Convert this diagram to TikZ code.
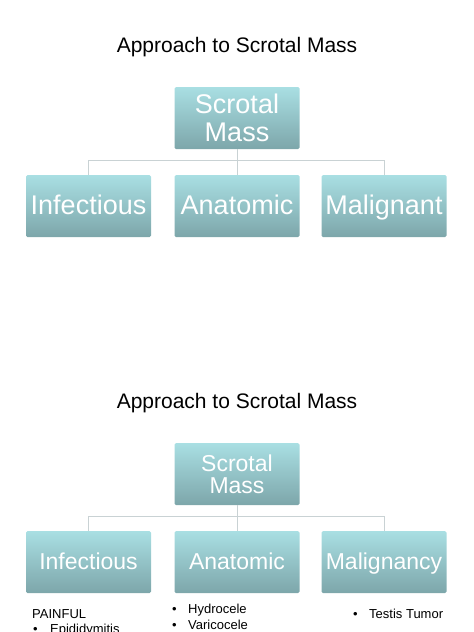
\documentclass[tikz,border=0pt]{standalone}
\usepackage{fontspec}
\setmainfont{Liberation Sans}

\definecolor{boxtop}{HTML}{A9DFE3}
\definecolor{boxbot}{HTML}{7DA6AA}
\definecolor{linkgray}{HTML}{C9D2D4}

\begin{document}
\begin{tikzpicture}[
  x=1pt,y=-1pt,
  box/.style={rectangle,rounded corners=1.5pt,minimum width=125pt,minimum height=62pt,
    inner sep=0pt,top color=boxtop,bottom color=boxbot,draw=none,text=white,align=center},
  link/.style={draw=linkgray,line width=0.8pt},
  title/.style={font=\fontsize{21}{25}\selectfont,anchor=base},
  item/.style={font=\fontsize{13}{15}\selectfont,anchor=base west,inner sep=0pt}
]
  \useasboundingbox (0,0) rectangle (474,632);

  \foreach \i/\shift/\sz/\lsk/\th/\td/\third in {1/0/27/28/20/4/Malignant,2/356/23/22/17/3/Malignancy} {
    \begin{scope}[shift={(0,\shift)},every node/.append style={font=\fontsize{\sz}{\lsk}\selectfont},
        leaf/.style={box,text height=\th pt,text depth=\td pt}]
      \node[title] (title\i) at (237,52) {Approach to Scrotal Mass};
      \node[box] (sm\i) at (237,118) {Scrotal\\Mass};
      \node[leaf] (inf\i) at (88.5,206) {Infectious};
      \node[leaf] (an\i) at (237,206) {Anatomic};
      \node[leaf] (mal\i) at (384,206) {\third};
      \draw[link] (sm\i.south) -- (an\i.north);
      \draw[link] (inf\i.north) -- ++(0,-14) -| (mal\i.north);
    \end{scope}
  }

  % lists under the second chart
  \node[item] (painful) at (32,618) {PAINFUL};
  \node[item] (b1) at (33,633) {\textbullet};
  \node[item] (epi) at (50,633) {Epididymitis};
  \node[item] (b2) at (172,613) {\textbullet};
  \node[item] (hyd) at (188,613) {Hydrocele};
  \node[item] (b3) at (172,629) {\textbullet};
  \node[item] (var) at (188,629) {Varicocele};
  \node[item] (b4) at (353,618) {\textbullet};
  \node[item] (tt) at (369,618) {Testis Tumor};
\end{tikzpicture}
\end{document}
